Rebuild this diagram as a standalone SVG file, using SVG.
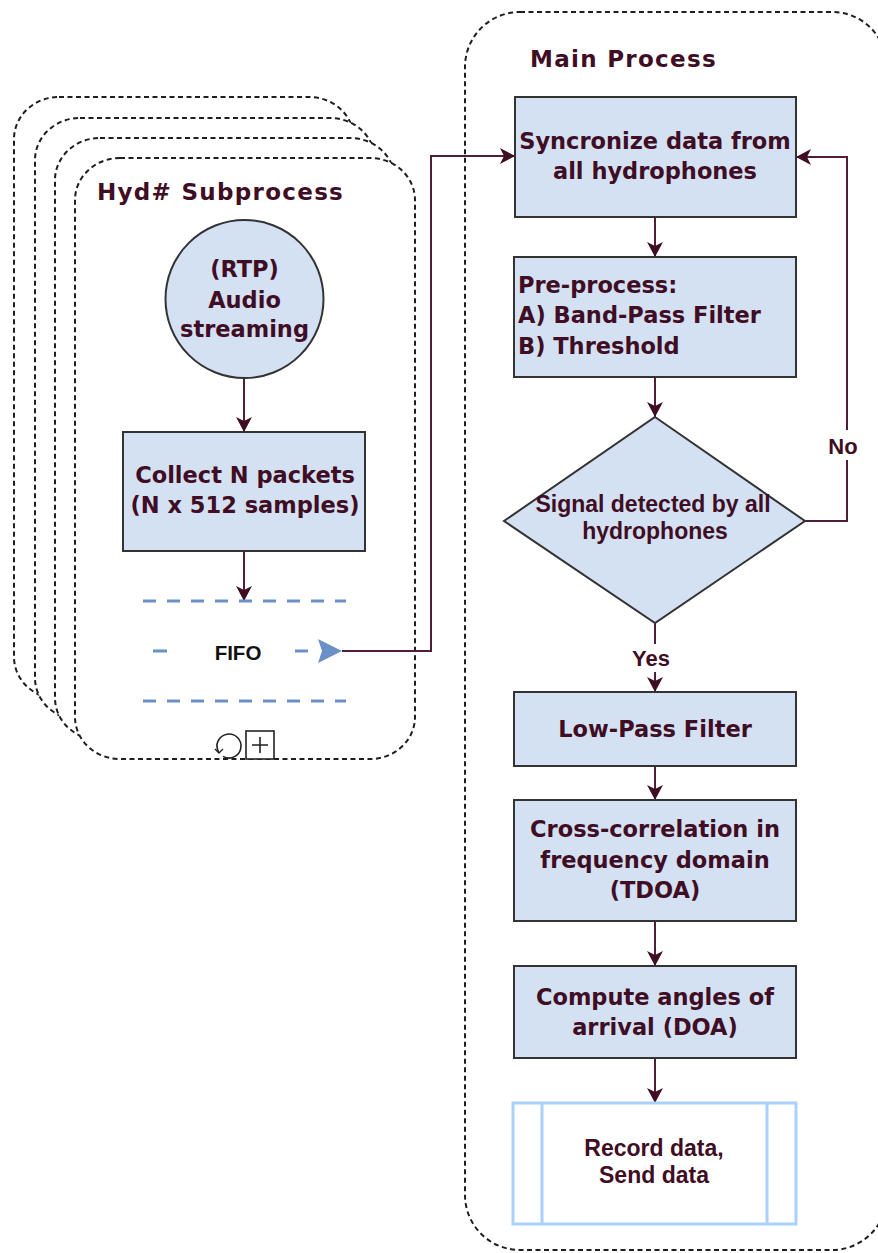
<svg xmlns="http://www.w3.org/2000/svg" width="878" height="1253" viewBox="0 0 878 1253">
  <style>
    .pool { fill: #ffffff; stroke: #1e1e1e; stroke-width: 2; stroke-dasharray: 5 3.5; }
    .title { font-family: "DejaVu Sans", Verdana, sans-serif; font-weight: bold; font-size: 23px; fill: #3f0d24; letter-spacing: 1.3px; }
    .box { fill: #d4e1f3; stroke: #333; stroke-width: 2; }
    .lbl { font-family: "DejaVu Sans", Verdana, sans-serif; font-weight: bold; font-size: 22.5px; fill: #3f0d24; }
    .lbl2 { font-family: "Liberation Sans", Arial, sans-serif; font-weight: bold; font-size: 23px; fill: #3f0d24; }
    .mid { text-anchor: middle; }
    .edge { fill: none; stroke: #4f1f3a; stroke-width: 2; }
    .fifo { stroke: #6b8fc7; stroke-width: 3; stroke-dasharray: 13 11; fill: none; }
  </style>
  <defs>
    <marker id="arrow" markerUnits="userSpaceOnUse" markerWidth="18" markerHeight="18" refX="15" refY="8" orient="auto">
      <path d="M0,0 L15,8 L0,16 L4,8 Z" fill="#3f0d24"/>
    </marker>
  </defs>

  <!-- stacked subprocess instances -->
  <g id="subprocess">
    <rect class="pool" x="14" y="97" width="340" height="602" rx="45" ry="42"/>
    <rect class="pool" x="35" y="118" width="340" height="602" rx="45" ry="42"/>
    <rect class="pool" x="55" y="138" width="340" height="602" rx="45" ry="42"/>
    <rect class="pool" x="75" y="158" width="340" height="601" rx="45" ry="42"/>
    <text class="title" x="97" y="200">Hyd# Subprocess</text>
    <!-- loop + collapsed markers -->
    <path d="M223,756.4 A12,12 0 1,0 218.6,752" fill="none" stroke="#222" stroke-width="1.6"/>
    <path d="M215,749 L219,753 L223,749" fill="none" stroke="#222" stroke-width="1.4"/>
    <rect x="246" y="731" width="28" height="28" fill="#fff" stroke="#222" stroke-width="1.6"/>
    <path d="M260,737 V753 M252,745 H268" stroke="#222" stroke-width="1.6"/>
  </g>

  <!-- main process pool -->
  <g id="main-process">
    <rect class="pool" x="465" y="12" width="422" height="1238" rx="55" ry="55"/>
    <text class="title" x="530" y="67">Main Process</text>
  </g>

  <!-- connectors -->
  <g id="connectors">
    <line class="edge" x1="244" y1="378" x2="244" y2="432" marker-end="url(#arrow)"/>
    <line class="edge" x1="244" y1="551" x2="244" y2="601" marker-end="url(#arrow)"/>
    <path class="edge" d="M342,651 H431 V156 H515" marker-end="url(#arrow)"/>
    <line class="edge" x1="655" y1="217" x2="655" y2="257" marker-end="url(#arrow)"/>
    <line class="edge" x1="655" y1="377" x2="655" y2="417" marker-end="url(#arrow)"/>
    <line class="edge" x1="655" y1="623" x2="655" y2="692" marker-end="url(#arrow)"/>
    <path class="edge" d="M805,521 H847 V157 H796" marker-end="url(#arrow)"/>
    <line class="edge" x1="655" y1="766" x2="655" y2="800" marker-end="url(#arrow)"/>
    <line class="edge" x1="655" y1="921" x2="655" y2="966" marker-end="url(#arrow)"/>
    <line class="edge" x1="655" y1="1058" x2="655" y2="1103" marker-end="url(#arrow)"/>
    <rect x="628" y="644" width="48" height="28" fill="#fff"/>
    <text class="lbl2 mid" x="651" y="666" style="font-size:22px">Yes</text>
    <rect x="825" y="430" width="44" height="30" fill="#fff"/>
    <text class="lbl2 mid" x="843" y="454" style="font-size:22px">No</text>
  </g>

  <g id="audio-stream">
    <circle cx="244.5" cy="299" r="79" fill="#d4e1f3" stroke="#333" stroke-width="2"/>
    <text class="lbl mid" x="244.5" y="277">(RTP)</text>
    <text class="lbl mid" x="244.5" y="308">Audio</text>
    <text class="lbl mid" x="244.5" y="337">streaming</text>
  </g>

  <g id="collect">
    <rect class="box" x="123" y="432" width="242" height="119"/>
    <text class="lbl mid" x="245" y="483">Collect N packets</text>
    <text class="lbl mid" x="245" y="513">(N x 512 samples)</text>
  </g>

  <g id="fifo">
    <line class="fifo" x1="143" y1="601" x2="346" y2="601"/>
    <line class="fifo" x1="143" y1="701" x2="346" y2="701"/>
    <line class="fifo" x1="153" y1="651" x2="167" y2="651" style="stroke-dasharray:none"/>
    <line class="fifo" x1="295" y1="651" x2="308" y2="651" style="stroke-dasharray:none"/>
    <path d="M318,639 L342,651 L318,663 L322,651 Z" fill="#6b8fc7"/>
    <text x="238" y="660" text-anchor="middle" font-family="Liberation Sans, Arial, sans-serif" font-weight="bold" font-size="20.5" fill="#111">FIFO</text>
  </g>

  <g id="sync">
    <rect class="box" x="515" y="97" width="281" height="120"/>
    <text class="lbl mid" x="655" y="149">Syncronize data from</text>
    <text class="lbl mid" x="655" y="179">all hydrophones</text>
  </g>

  <g id="preprocess">
    <rect class="box" x="514" y="257" width="282" height="120"/>
    <text class="lbl" x="518" y="293">Pre-process:</text>
    <text class="lbl" x="518" y="323">A) Band-Pass Filter</text>
    <text class="lbl" x="518" y="354">B) Threshold</text>
  </g>

  <g id="decision">
    <polygon points="655,417 805,521 655,623 504,521" fill="#d4e1f3" stroke="#333" stroke-width="2"/>
    <text class="lbl2 mid" x="653" y="512">Signal detected by all</text>
    <text class="lbl2 mid" x="655" y="539">hydrophones</text>
  </g>

  <g id="lowpass">
    <rect class="box" x="514" y="692" width="282" height="74"/>
    <text class="lbl mid" x="655" y="737">Low-Pass Filter</text>
  </g>

  <g id="xcorr">
    <rect class="box" x="514" y="800" width="282" height="121"/>
    <text class="lbl mid" x="655" y="837">Cross-correlation in</text>
    <text class="lbl mid" x="655" y="868">frequency domain</text>
    <text class="lbl mid" x="655" y="898">(TDOA)</text>
  </g>

  <g id="doa">
    <rect class="box" x="514" y="966" width="282" height="92"/>
    <text class="lbl mid" x="655" y="1005">Compute angles of</text>
    <text class="lbl mid" x="655" y="1035">arrival (DOA)</text>
  </g>

  <g id="record">
    <rect x="513" y="1103" width="283" height="121" fill="#fff" stroke="#a9d1fb" stroke-width="3"/>
    <line x1="542" y1="1103" x2="542" y2="1224" stroke="#a9d1fb" stroke-width="3"/>
    <line x1="767" y1="1103" x2="767" y2="1224" stroke="#a9d1fb" stroke-width="3"/>
    <text class="lbl2 mid" x="654" y="1156">Record data,</text>
    <text class="lbl2 mid" x="654" y="1183">Send data</text>
  </g>
</svg>
